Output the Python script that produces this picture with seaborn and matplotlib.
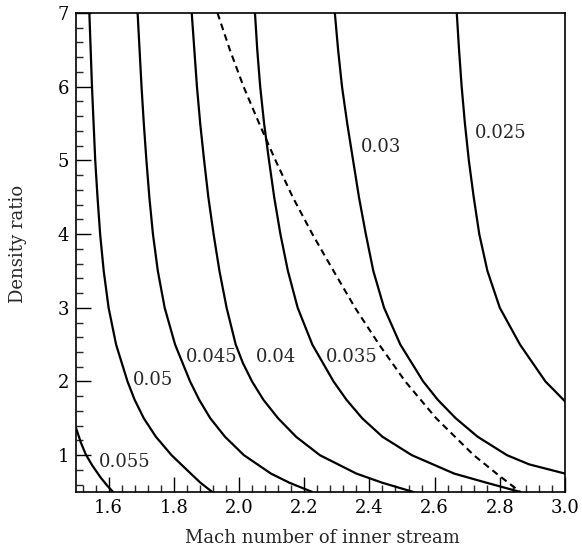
import numpy as np
import pandas as pd
import matplotlib
matplotlib.use("Agg")
import matplotlib.pyplot as plt
from matplotlib.ticker import AutoMinorLocator, FixedLocator
import seaborn as sns

# ---- data (Mach number, density ratio) ----
c055_x = [1.500, 1.515, 1.530, 1.550, 1.575, 1.595, 1.614]
c055_y = [1.37, 1.17, 1.01, 0.86, 0.70, 0.59, 0.50]

c050_x = [1.541, 1.545, 1.549, 1.554, 1.559, 1.566, 1.574, 1.585, 1.600, 1.623, 1.658, 1.680, 1.708, 1.745, 1.793, 1.852, 1.882, 1.918]
c050_y = [7.0, 6.5, 6.0, 5.5, 5.0, 4.5, 4.0, 3.5, 3.0, 2.5, 2.0, 1.75, 1.5, 1.25, 1.0, 0.75, 0.625, 0.50]

c045_x = [1.689, 1.695, 1.701, 1.708, 1.716, 1.725, 1.736, 1.751, 1.772, 1.804, 1.850, 1.878, 1.912, 1.957, 2.015, 2.098, 2.155, 2.225]
c045_y = [7.0, 6.5, 6.0, 5.5, 5.0, 4.5, 4.0, 3.5, 3.0, 2.5, 2.0, 1.75, 1.5, 1.25, 1.0, 0.75, 0.625, 0.50]

c040_x = [1.855, 1.863, 1.871, 1.881, 1.893, 1.906, 1.922, 1.940, 1.962, 1.990, 2.012, 2.040, 2.075, 2.120, 2.175, 2.248, 2.360, 2.440, 2.535]
c040_y = [7.0, 6.5, 6.0, 5.5, 5.0, 4.5, 4.0, 3.5, 3.0, 2.5, 2.25, 2.0, 1.75, 1.5, 1.25, 1.0, 0.75, 0.625, 0.50]

c035_x = [2.049, 2.056, 2.065, 2.077, 2.092, 2.108, 2.127, 2.150, 2.180, 2.225, 2.290, 2.330, 2.378, 2.440, 2.530, 2.660, 2.760, 2.863]
c035_y = [7.0, 6.5, 6.0, 5.5, 5.0, 4.5, 4.0, 3.5, 3.0, 2.5, 2.0, 1.75, 1.5, 1.25, 1.0, 0.75, 0.625, 0.50]

c030_x = [2.294, 2.304, 2.316, 2.332, 2.350, 2.368, 2.389, 2.412, 2.445, 2.495, 2.565, 2.610, 2.665, 2.732, 2.822, 2.890, 3.000]
c030_y = [7.0, 6.5, 6.0, 5.5, 5.0, 4.5, 4.0, 3.5, 3.0, 2.5, 2.0, 1.75, 1.5, 1.25, 1.0, 0.875, 0.75]

c025_x = [2.668, 2.675, 2.683, 2.693, 2.705, 2.720, 2.737, 2.762, 2.800, 2.862, 2.940, 3.000]
c025_y = [7.0, 6.5, 6.0, 5.5, 5.0, 4.5, 4.0, 3.5, 3.0, 2.5, 2.0, 1.73]

dash_x = [1.934, 1.972, 2.014, 2.062, 2.112, 2.165, 2.225, 2.290, 2.356, 2.430, 2.510, 2.605, 2.720, 2.790, 2.863]
dash_y = [7.0, 6.5, 6.0, 5.5, 5.0, 4.5, 4.0, 3.5, 3.0, 2.5, 2.0, 1.5, 1.0, 0.75, 0.50]

curve_names = ["0.055", "0.05", "0.045", "0.04", "0.035", "0.03", "0.025"]
curve_xs = [c055_x, c050_x, c045_x, c040_x, c035_x, c030_x, c025_x]
curve_ys = [c055_y, c050_y, c045_y, c040_y, c035_y, c030_y, c025_y]

label_text = ["0.055", "0.05", "0.045", "0.04", "0.035", "0.03", "0.025"]
label_x = [1.648, 1.737, 1.916, 2.113, 2.345, 2.437, 2.804]
label_y = [0.91, 2.02, 2.336, 2.336, 2.336, 5.185, 5.37]

x_ticks = [1.6, 1.8, 2.0, 2.2, 2.4, 2.6, 2.8, 3.0]
y_ticks = [1, 2, 3, 4, 5, 6, 7]

# ---- build tables ----
rows = []
for name, xs, ys in zip(curve_names, curve_xs, curve_ys):
    for xv, yv in zip(xs, ys):
        rows.append({"curve": name, "mach": xv, "ratio": yv})
df = pd.DataFrame(rows)
df_dash = pd.DataFrame({"mach": dash_x, "ratio": dash_y, "curve": "dash"})

sns.set_style("ticks")
plt.rcParams["font.family"] = ["DejaVu Serif"]

fig = plt.figure(figsize=(5.82, 5.54), dpi=100)
ax = fig.add_axes([76 / 582, 1 - 492 / 554, (565 - 76) / 582, (492 - 13) / 554])

sns.lineplot(data=df, x="mach", y="ratio", units="curve", estimator=None,
             sort=False, color="black", linewidth=1.6, ax=ax, legend=False)
sns.lineplot(data=df_dash, x="mach", y="ratio", estimator=None, sort=False,
             color="black", linewidth=1.5, linestyle=(0, (3.2, 2.2)), ax=ax, legend=False)

for t, xv, yv in zip(label_text, label_x, label_y):
    ax.text(xv, yv, t, ha="center", va="center", fontsize=13)

ax.set_xlim(1.5, 3.0)
ax.set_ylim(0.5, 7.0)
ax.xaxis.set_major_locator(FixedLocator(x_ticks))
ax.yaxis.set_major_locator(FixedLocator(y_ticks))
ax.set_xticklabels([f"{v:.1f}" for v in x_ticks])
ax.set_yticklabels([str(v) for v in y_ticks])
ax.xaxis.set_minor_locator(AutoMinorLocator(5))
ax.yaxis.set_minor_locator(AutoMinorLocator(5))
ax.tick_params(which="major", direction="in", length=11, width=1.0, labelsize=13,
               pad=5, top=False, right=False, colors="black")
ax.tick_params(which="minor", direction="in", length=5, width=1.0, top=False, right=False)

for s in ax.spines.values():
    s.set_visible(True)
    s.set_linewidth(1.2)
    s.set_color("black")

ax.set_xlabel("Mach number of inner stream", fontsize=13)
ax.set_ylabel("Density ratio", fontsize=13)
ax.xaxis.set_label_coords(0.504, -0.078)
ax.yaxis.set_label_coords(-0.10, 0.518)

fig.savefig("out.png", dpi=100, facecolor="white")
